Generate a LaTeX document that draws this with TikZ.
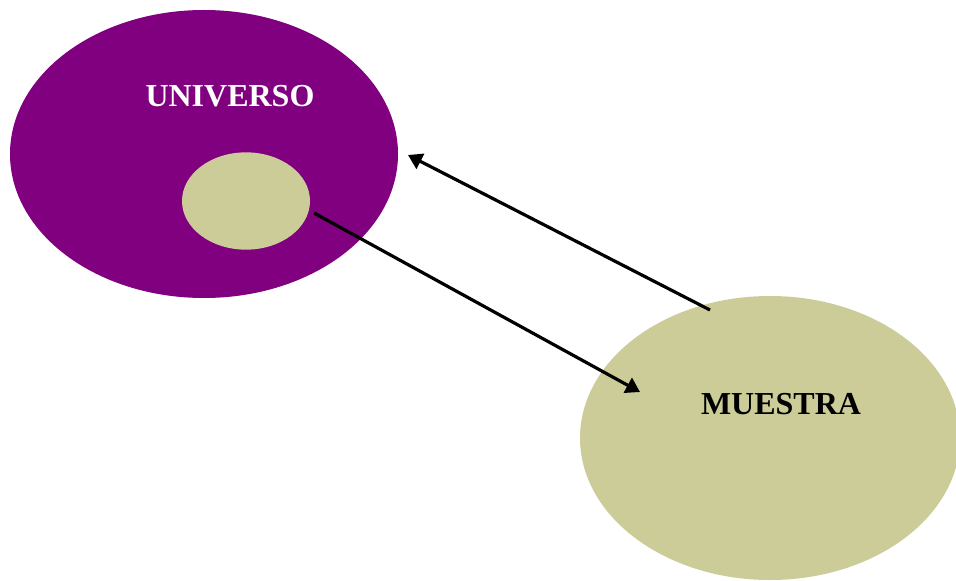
\documentclass[tikz,border=0pt]{standalone}
\usepackage{fontspec}
\setmainfont{Liberation Serif}
\usepackage{tikz}
\usetikzlibrary{shapes.geometric}
\usetikzlibrary{arrows.meta}
\definecolor{universe fill}{HTML}{800080}
\definecolor{sample fill}{HTML}{CCCC99}
\tikzset{set/.style={ellipse, inner sep=0pt, outer sep=0pt},
    setname/.style={font=\bfseries\fontsize{24}{28}\selectfont, inner sep=0pt},
    link/.style={-{Triangle[length=10.5pt,width=12.5pt]}, line width=2.4pt}}

\begin{document}
\begin{tikzpicture}[x=0.75pt,y=-0.75pt]
    \useasboundingbox (0,0) rectangle (956,581);
    % sets
    \node[set, fill=universe fill, minimum width=291pt, minimum height=216pt] (universo) at (204,154) {};
    \node[set, fill=sample fill, minimum width=96pt, minimum height=73pt] (subset) at (246,201) {};
    \node[set, fill=sample fill, minimum width=285pt, minimum height=213pt] (muestra) at (770,438) {};
    \node[setname, text=white] (universo label) at (230,96) {UNIVERSO};
    \node[setname] (muestra label) at (781,404) {MUESTRA};
    % arrows
    \coordinate (back start) at (710,310);
    \coordinate (back end) at (408,155);
    \coordinate (out start) at (314,213);
    \coordinate (out end) at (640,392);
    \draw[link] (back start) -- (back end);
    \draw[link] (out start) -- (out end);
\end{tikzpicture}
\end{document}
